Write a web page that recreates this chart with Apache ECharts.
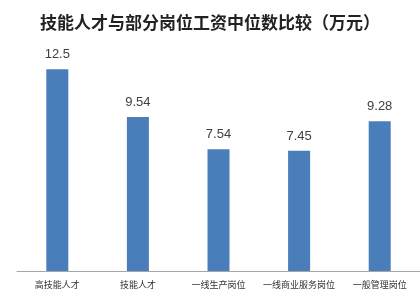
<!DOCTYPE html>
<html>
<head>
<meta charset="utf-8">
<script src="https://cdn.jsdelivr.net/npm/echarts@6/dist/echarts.min.js"></script>
<style>
  html, body { margin: 0; padding: 0; background: #fff; }
  #chart { width: 420px; height: 300px; }
</style>
</head>
<body>
<div id="chart"></div>
<script>
const categories = ['高技能人才', '技能人才', '一线生产岗位', '一线商业服务岗位', '一般管理岗位']
const medianWage = [12.5, 9.54, 7.54, 7.45, 9.28]

const chart = echarts.init(document.getElementById('chart'))
const option = {
  animation: false,
  title: {
    text: '技能人才与部分岗位工资中位数比较（万元）',
    left: 'center',
    top: 9,
    textStyle: {
      fontFamily: 'Noto Sans CJK SC',
      fontSize: 17,
      fontWeight: 'bold',
      color: '#222',
    },
  },
  grid: {
    left: 17,
    right: -12,
    top: 45,
    bottom: 29,
  },
  xAxis: {
    type: 'category',
    data: categories,
    axisLine: { lineStyle: { color: '#a6a6a6', width: 1 } },
    axisTick: { show: false },
    axisLabel: {
      margin: 9,
      fontSize: 9,
      color: '#333',
      fontFamily: 'Noto Sans CJK SC',
      interval: 0,
    },
  },
  yAxis: {
    type: 'value',
    min: 0,
    max: 14,
    show: false,
  },
  series: [
    {
      type: 'bar',
      data: medianWage,
      barWidth: 22,
      itemStyle: { color: '#4a7ebb' },
      label: {
        show: true,
        position: 'top',
        distance: 8,
        fontSize: 13,
        color: '#404040',
        fontFamily: 'Liberation Sans',
      },
    },
  ],
}
chart.setOption(option)
</script>
</body>
</html>
